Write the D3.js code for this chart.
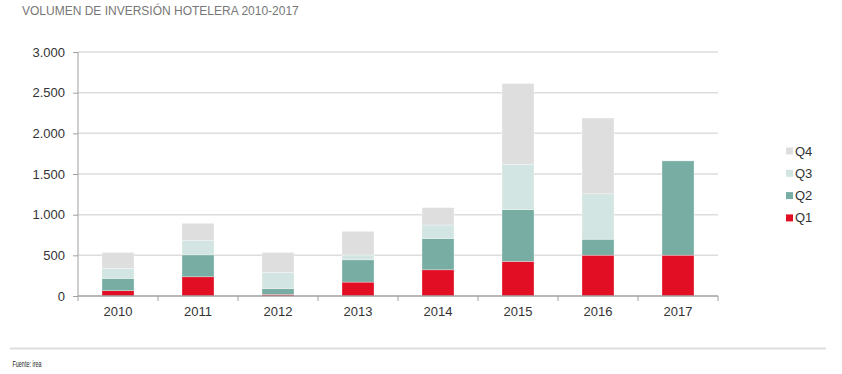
<!DOCTYPE html>
<meta charset="utf-8">
<script src="https://d3js.org/d3.v7.min.js"></script>
<style>
  body { margin: 0; background: #fff; }
  text { font-family: "Liberation Sans", Arial, sans-serif; }
</style>
<div id="chart"></div>
<script>
  // data (millones de euros)
  const years = ["2010", "2011", "2012", "2013", "2014", "2015", "2016", "2017"];
  const q1 = [65, 236, 20, 171, 322, 425, 502, 502];
  const q2 = [150, 270, 70, 274, 384, 636, 196, 1159];
  const q3 = [125, 180, 200, 60, 167, 559, 559, 0];
  const q4 = [195, 208, 245, 290, 213, 992, 931, 0];
  const quarters = ["Q1", "Q2", "Q3", "Q4"];
  const yTicks = [0, 500, 1000, 1500, 2000, 2500, 3000];

  const colors = { Q1: "#e10e24", Q2: "#78ada3", Q3: "#d3e5e2", Q4: "#dedede" };

  const W = 842, H = 374;
  const margin = { top: 52, right: 124, bottom: 78, left: 78 };
  const width = W - margin.left - margin.right,
    height = H - margin.top - margin.bottom;

  const svg = d3.select("#chart").append("svg")
    .attr("width", W).attr("height", H);

  // title
  svg.append("text")
    .attr("x", 22).attr("y", 15)
    .attr("fill", "#777")
    .style("font-size", "12px")
    .text("VOLUMEN DE INVERSIÓN HOTELERA 2010-2017");

  const g = svg.append("g").attr("transform", `translate(${margin.left},${margin.top})`);

  const table = years.map((y, i) => ({ year: y, Q1: q1[i], Q2: q2[i], Q3: q3[i], Q4: q4[i] }));
  const stacked = d3.stack().keys(quarters)(table);

  const x = d3.scaleBand().domain(years).range([0, width]).paddingInner(0.6).paddingOuter(0.3);
  const y = d3.scaleLinear().domain([0, 3000]).range([height, 0]);

  // gridlines
  g.append("g")
    .selectAll("line")
    .data(yTicks.slice(1))
    .join("line")
    .attr("x1", 0).attr("x2", width)
    .attr("y1", d => y(d)).attr("y2", d => y(d))
    .attr("stroke", "#dddddd").attr("stroke-width", 1.5);

  // bars
  g.append("g")
    .selectAll("g")
    .data(stacked)
    .join("g")
    .attr("fill", d => colors[d.key])
    .selectAll("rect")
    .data(d => d.filter(s => s[1] > s[0]))
    .join("rect")
    .attr("x", d => x(d.data.year))
    .attr("width", x.bandwidth())
    .attr("y", d => y(d[1]))
    .attr("height", d => y(d[0]) - y(d[1]))
    .attr("stroke", "#fff").attr("stroke-opacity", 0.5).attr("stroke-width", 0.6);

  // y axis
  const yAxis = g.append("g")
    .call(d3.axisLeft(y).tickValues(yTicks).tickSize(5).tickPadding(8)
      .tickFormat(d => d3.format(",")(d).replace(/,/g, ".")));
  yAxis.select(".domain").attr("stroke", "#a0a0a0").attr("d", `M0,0V${height}`);
  yAxis.selectAll(".tick line").attr("stroke", "#a0a0a0");
  yAxis.selectAll("text").attr("fill", "#333").style("font-size", "13px");

  // x axis with ticks at band boundaries
  const xAxis = g.append("g").attr("transform", `translate(0,${height})`);
  xAxis.append("line").attr("x1", 0).attr("x2", width).attr("stroke", "#a0a0a0").attr("stroke-width", 1.5);
  const step = x.step();
  xAxis.selectAll(".bt")
    .data(d3.range(years.length + 1))
    .join("line")
    .attr("class", "bt")
    .attr("x1", i => x(years[0]) - (step - x.bandwidth()) / 2 + i * step)
    .attr("x2", i => x(years[0]) - (step - x.bandwidth()) / 2 + i * step)
    .attr("y1", 0).attr("y2", 5)
    .attr("stroke", "#a0a0a0");
  xAxis.selectAll(".lbl")
    .data(years)
    .join("text")
    .attr("class", "lbl")
    .attr("x", d => x(d) + x.bandwidth() / 2)
    .attr("y", 20)
    .attr("text-anchor", "middle")
    .attr("fill", "#333")
    .style("font-size", "13px")
    .text(d => d);

  // legend
  const legend = svg.append("g").attr("transform", "translate(786,151)");
  const lg = legend.selectAll("g")
    .data(quarters.slice().reverse())
    .join("g")
    .attr("transform", (d, i) => `translate(0,${i * 22.3})`);
  lg.append("rect").attr("x", 0).attr("y", -3.5).attr("width", 7).attr("height", 7)
    .attr("fill", d => colors[d]);
  lg.append("text").attr("x", 9).attr("y", 4.5)
    .attr("fill", "#333").style("font-size", "13px")
    .text(d => d);

  // footer
  svg.append("line")
    .attr("x1", 10).attr("x2", 826).attr("y1", 348.5).attr("y2", 348.5)
    .attr("stroke", "#dddddd").attr("stroke-width", 2);
  svg.append("text")
    .attr("x", 12.5).attr("y", 366.5)
    .attr("fill", "#222")
    .style("font-size", "9.5px")
    .attr("textLength", 29)
    .attr("lengthAdjust", "spacingAndGlyphs")
    .text("Fuente: irea");
</script>
